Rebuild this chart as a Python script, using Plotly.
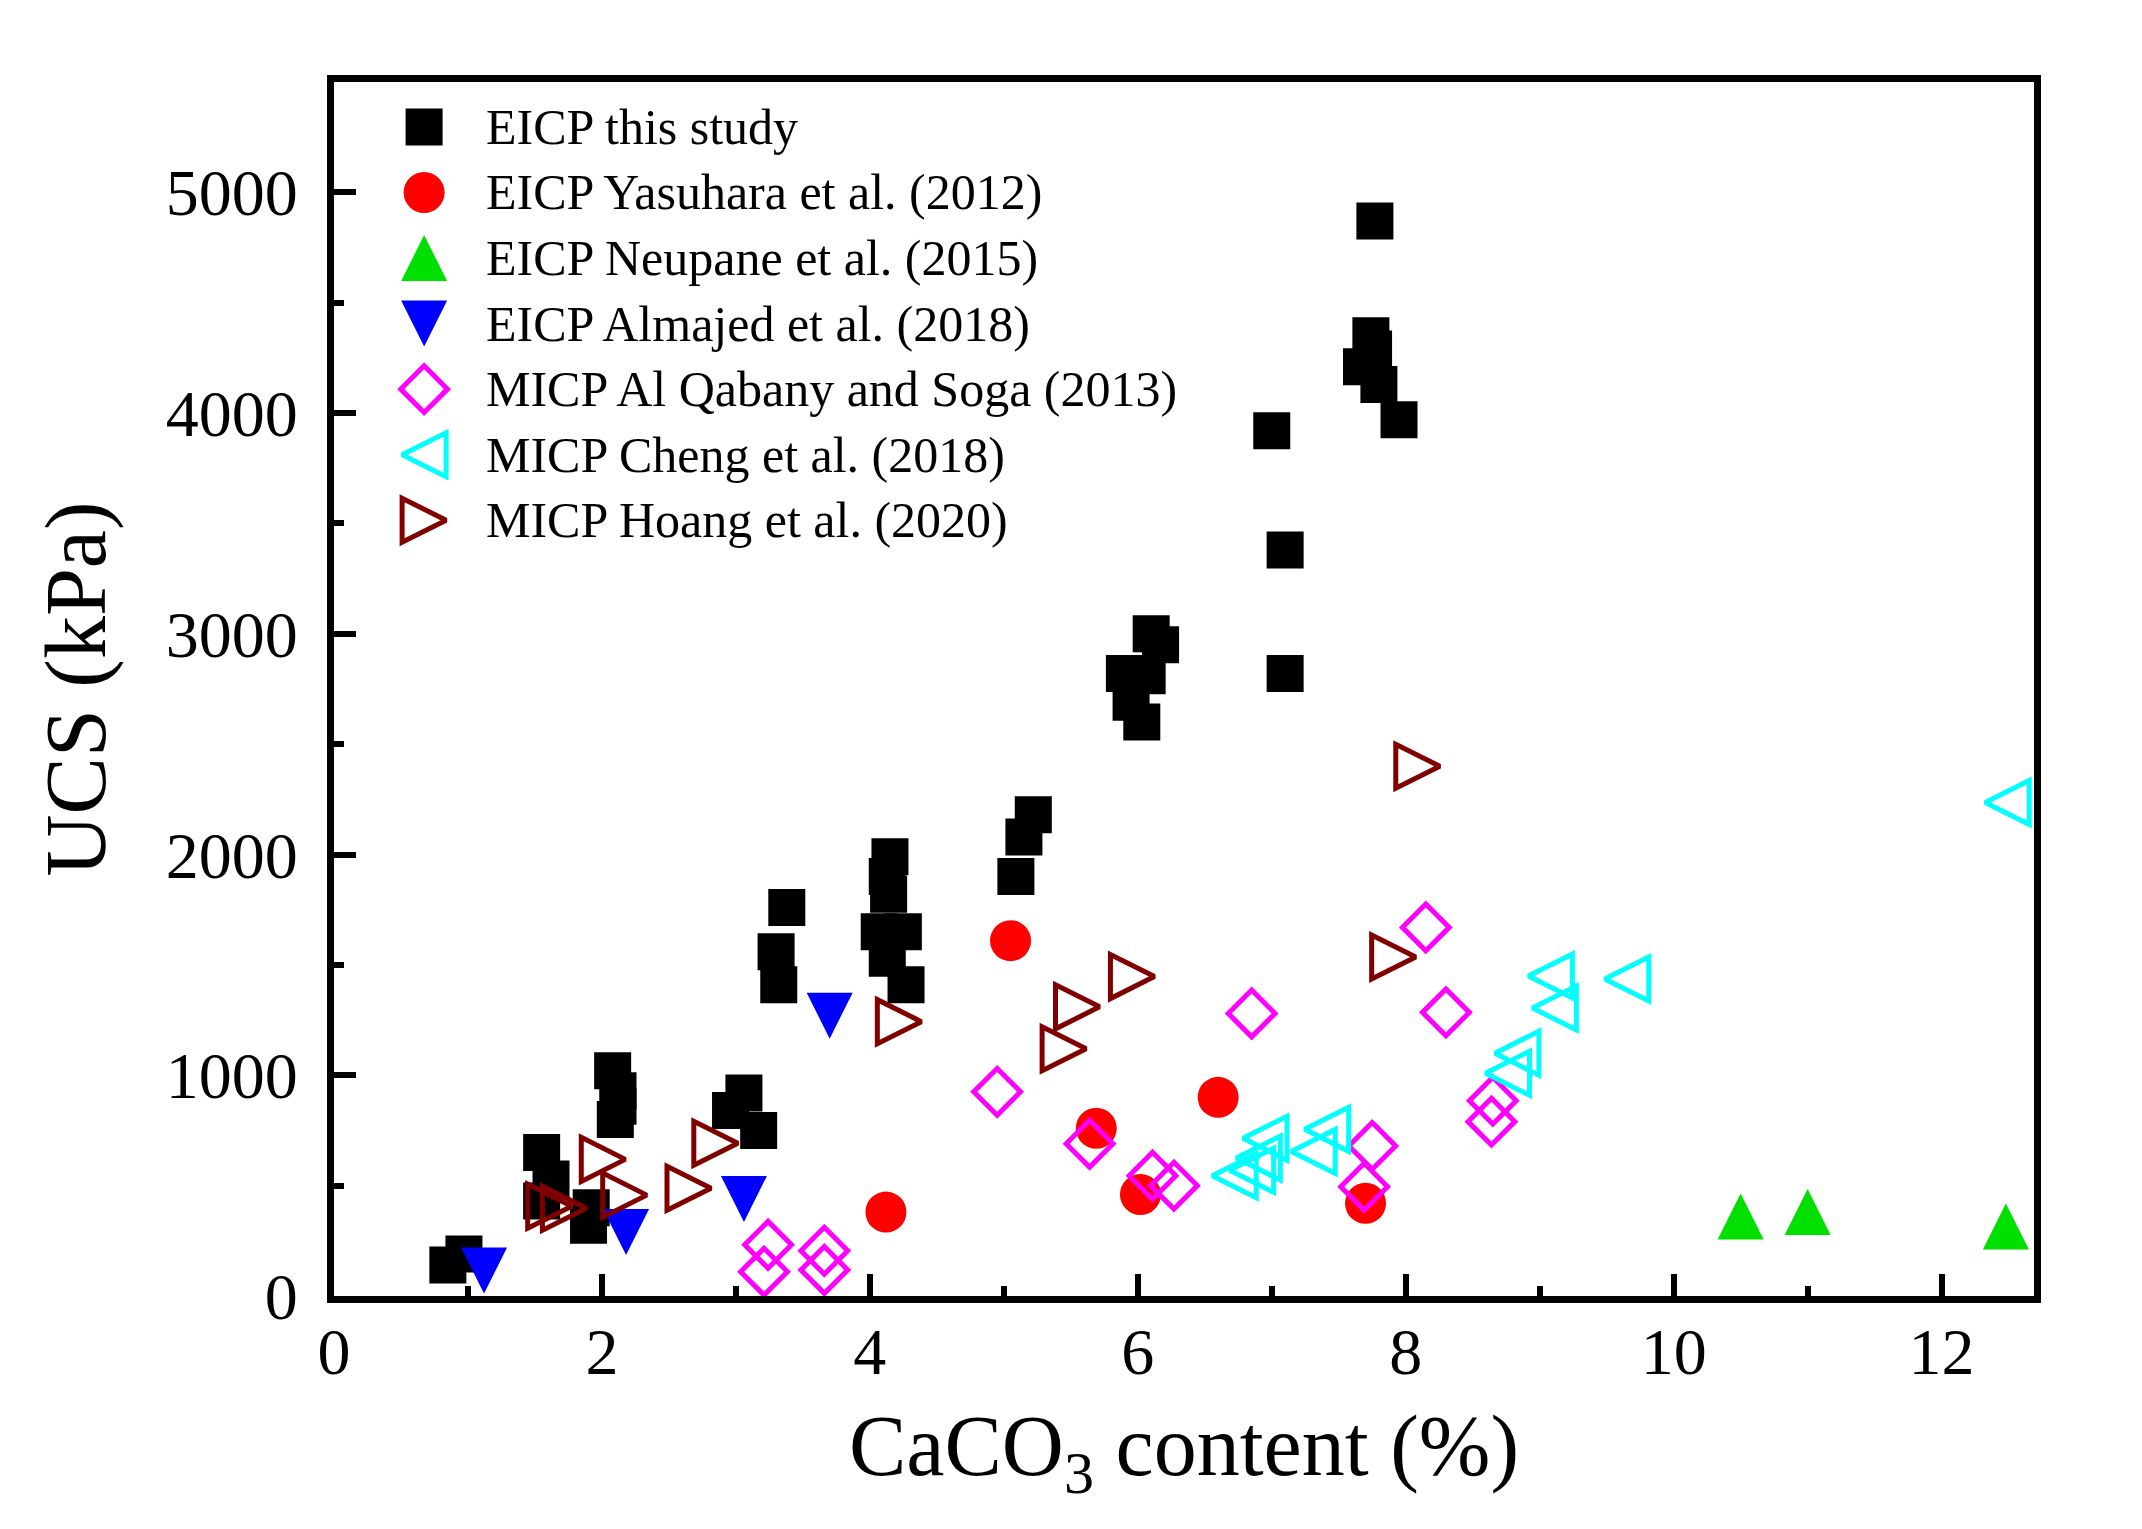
import plotly.graph_objects as go

# data: CaCO3 content (%) vs UCS (kPa)
eicp_this_x = [0.85, 0.97, 1.55, 1.62, 1.55, 1.92, 1.90, 2.08, 2.12, 2.12, 2.10,
               2.96, 3.06, 3.17, 3.38, 3.30, 3.32, 4.15, 4.13, 4.14, 4.07, 4.25,
               4.13, 4.27, 5.22, 5.15, 5.09, 6.10, 6.17, 5.90, 6.07, 5.95, 6.03,
               7.00, 7.10, 7.10, 7.77, 7.74, 7.76, 7.67, 7.80, 7.95]
eicp_this_y = [140, 190, 650, 530, 430, 400, 320, 1020, 930, 860, 800,
               840, 920, 750, 1760, 1560, 1410, 1990, 1900, 1820, 1650, 1650,
               1530, 1410, 2180, 2080, 1900, 3000, 2950, 2820, 2810, 2690, 2600,
               3920, 3380, 2820, 4870, 4350, 4290, 4210, 4130, 3970]

yasuhara_x = [4.12, 5.05, 5.69, 6.02, 6.60, 7.70]
yasuhara_y = [380, 1610, 760, 460, 900, 420]

neupane_x = [10.50, 11.00, 12.48]
neupane_y = [360, 380, 315]

almajed_x = [1.12, 2.18, 3.06, 3.70]
almajed_y = [115, 290, 440, 1270]

alqabany_x = [3.24, 3.21, 3.66, 3.66, 4.95, 5.64, 6.11, 6.27, 6.85, 7.75, 7.69,
              8.15, 8.30, 8.65, 8.64]
alqabany_y = [232, 110, 205, 118, 925, 690, 545, 500, 1280, 680, 495,
              1670, 1285, 885, 790]

cheng_x = [12.49, 9.65, 9.08, 9.11, 8.83, 8.76, 7.41, 7.31, 6.95, 6.90, 6.85, 6.72]
cheng_y = [2236, 1436, 1450, 1305, 1100, 1009, 755, 655, 715, 625, 570, 545]

hoang_x = [1.61, 1.72, 2.01, 2.17, 2.65, 2.85, 4.22, 5.45, 5.55, 5.96, 7.91, 8.09]
hoang_y = [407, 398, 619, 457, 488, 692, 1243, 1120, 1310, 1447, 1536, 2400]

labels = [
    "EICP this study",
    "EICP Yasuhara et al. (2012)",
    "EICP Neupane et al. (2015)",
    "EICP Almajed et al. (2018)",
    "MICP Al Qabany and Soga (2013)",
    "MICP Cheng et al. (2018)",
    "MICP Hoang et al. (2020)",
]

FONT = "Liberation Serif"

# marker styles; triangles are arrow symbols pushed back by half their size
# so they sit centred on the point (Origin-like proportions)
styles = [
    dict(symbol="square", size=37, color="black"),
    dict(symbol="circle", size=41, color="#ff0000"),
    dict(symbol="arrow-down", size=46, color="#00e000", angle=180, standoff=23),
    dict(symbol="arrow-down", size=46, color="#0000ff", angle=0, standoff=23),
    dict(symbol="diamond-open", size=36, color="#ff00ff", line=dict(width=5, color="#ff00ff")),
    dict(symbol="arrow-down-open", size=44, color="#00ffff", angle=90, standoff=22,
         line=dict(width=5, color="#00ffff")),
    dict(symbol="arrow-down-open", size=44, color="#800000", angle=-90, standoff=22,
         line=dict(width=5, color="#800000")),
]

series = [
    (eicp_this_x, eicp_this_y),
    (yasuhara_x, yasuhara_y),
    (neupane_x, neupane_y),
    (almajed_x, almajed_y),
    (alqabany_x, alqabany_y),
    (cheng_x, cheng_y),
    (hoang_x, hoang_y),
]

fig = go.Figure()

for (xs, ys), st, name in zip(series, styles, labels):
    mk = dict(st)
    if "line" not in mk:
        mk["line"] = dict(width=0)
    fig.add_trace(go.Scatter(
        x=xs, y=ys, mode="markers", name=name,
        marker=mk, cliponaxis=False, showlegend=False,
    ))

# hand-made legend (plotly caps legend symbols at 16 px)
leg_x = 0.053
leg_text_x = 0.088
leg_top = 0.963
leg_step = 0.054
for i, (st, name) in enumerate(zip(styles, labels)):
    yy = leg_top - i * leg_step
    mk = dict(st)
    if "line" not in mk:
        mk["line"] = dict(width=0)
    fig.add_trace(go.Scatter(
        x=[leg_x], y=[yy], mode="markers", marker=mk,
        xaxis="x2", yaxis="y2", showlegend=False, cliponaxis=False,
        hoverinfo="skip",
    ))
    fig.add_annotation(
        x=leg_text_x, y=yy, xref="paper", yref="paper",
        text=name, showarrow=False, xanchor="left", yanchor="middle",
        font=dict(family=FONT, size=50, color="black"),
    )

axis_common = dict(
    showgrid=False, zeroline=False,
    showline=True, linewidth=7, linecolor="black", mirror=True,
    ticks="inside", ticklen=22, tickwidth=6, tickcolor="black",
    tickfont=dict(family=FONT, size=66, color="black"),
)

fig.update_layout(
    width=2142, height=1529,
    margin=dict(l=326, r=116, t=74, b=241),
    plot_bgcolor="white", paper_bgcolor="white",
    showlegend=False,
    font=dict(family=FONT, color="black"),
    xaxis=dict(
        range=[0, 12.69], tick0=0, dtick=2,
        minor=dict(dtick=1, ticks="inside", ticklen=10, tickwidth=6, tickcolor="black"),
        ticklabelstandoff=-8,
        title=dict(text="CaCO<sub>3</sub> content (%)", standoff=30,
                   font=dict(family=FONT, size=86, color="black")),
        **axis_common,
    ),
    yaxis=dict(
        range=[0, 5500], tick0=0, dtick=1000,
        minor=dict(dtick=500, ticks="inside", ticklen=10, tickwidth=6, tickcolor="black"),
        ticklabelstandoff=16,
        title=dict(text="UCS (kPa)", standoff=34,
                   font=dict(family=FONT, size=86, color="black")),
        **axis_common,
    ),
    xaxis2=dict(overlaying="x", range=[0, 1], visible=False),
    yaxis2=dict(overlaying="y", range=[0, 1], visible=False),
)

fig.write_html("out.html")
